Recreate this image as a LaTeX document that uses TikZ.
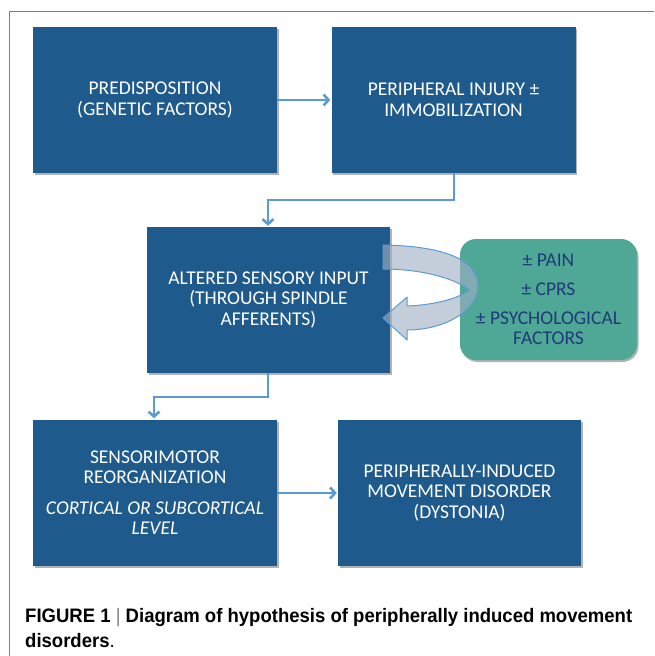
\documentclass[tikz,border=0pt]{standalone}
\usepackage{fontspec}
\setmainfont{Carlito}
\newfontfamily\capfont{Liberation Sans}
\usetikzlibrary{arrows.meta,shadows}
\definecolor{boxblue}{HTML}{1F5A8C}
\definecolor{boxgreen}{HTML}{4FA896}
\definecolor{linkblue}{HTML}{5B9BD5}
\definecolor{darktext}{HTML}{1F3A78}
\definecolor{ribbonfill}{HTML}{A0AEC4}
\definecolor{framegray}{HTML}{808080}
\definecolor{bargray}{HTML}{7F7F7F}
\begin{document}
\begin{tikzpicture}[x=1pt,y=-1pt,
  boxbase/.style={rectangle, inner sep=0pt, align=center,
    font=\fontsize{19.5}{20.5}\selectfont,
    drop shadow={shadow xshift=1.5pt, shadow yshift=-2pt, opacity=0.3, fill=black}},
  bluebox/.style={boxbase, fill=boxblue, text=white, minimum width=244pt, minimum height=146pt},
  greenbox/.style={boxbase, fill=boxgreen, text=darktext, rounded corners=16pt, minimum width=177pt, minimum height=121pt},
  conn/.style={draw=linkblue, line width=2pt, -{Straight Barb[length=5pt,width=11pt,line width=2.6pt]}, shorten >=1pt},
  ribbon/.style={fill=ribbonfill, fill opacity=0.62, draw=linkblue, line width=1pt, line join=round}
]
\useasboundingbox (0,0) rectangle (654,656);
% frame
\draw[framegray, line width=1pt] (654,11.5) -- (9,11.5) -- (9,656);

% boxes
\node[bluebox] (b1) at (155,100) {PREDISPOSITION\\(GENETIC FACTORS)};
\node[bluebox] (b2) at (453.5,100) {PERIPHERAL INJURY ±\\IMMOBILIZATION};
\node[bluebox, minimum width=243pt] (b3) at (268.5,300) {ALTERED SENSORY INPUT\\(THROUGH SPINDLE\\AFFERENTS)};
\node[greenbox] (g) at (548.5,299.5) {± PAIN\\[8.5pt]± CPRS\\[8.5pt]± PSYCHOLOGICAL\\FACTORS};
\node[bluebox] (b4) at (155,492.5) {SENSORIMOTOR\\REORGANIZATION\\[10pt]\textit{CORTICAL OR SUBCORTICAL}\\\textit{LEVEL}};
\node[bluebox, minimum width=243pt] (b5) at (459.5,493) {PERIPHERALLY-INDUCED\\MOVEMENT DISORDER\\(DYSTONIA)};

% connectors
\draw[conn] (b1.east) -- (b2.west);
\draw[conn] (b2.south -| 454,0) -- (454,200) -| (b3.north -| 268,0);
\draw[conn] (b3.south -| 268,0) -- (268,397) -| (b4.north -| 154,0);
\draw[conn] (b4.east |- 0,493) -- (b5.west |- 0,493);

% curved ribbon arrow
\path[ribbon] (383,245) .. controls (440,246) and (477,258) .. (478,285)
  .. controls (479,310) and (445,330) .. (407,330)
  -- (407,340) -- (383,318) -- (407,297) -- (407,306)
  .. controls (435,305) and (460,298) .. (469,290)
  .. controls (455,278) and (420,269) .. (383,269) -- cycle;

% caption
\node[anchor=base west, inner sep=0pt] (cap1) at (25,622)
  {\scalebox{0.95}[1]{\fontsize{19.5}{23}\capfont\bfseries FIGURE 1 {\mdseries\color{bargray}|} Diagram of hypothesis of peripherally induced movement}};
\node[anchor=base west, inner sep=0pt] (cap2) at (25,647)
  {\scalebox{0.95}[1]{\fontsize{19.5}{23}\capfont\bfseries disorders{\mdseries .}}};
\end{tikzpicture}
\end{document}
